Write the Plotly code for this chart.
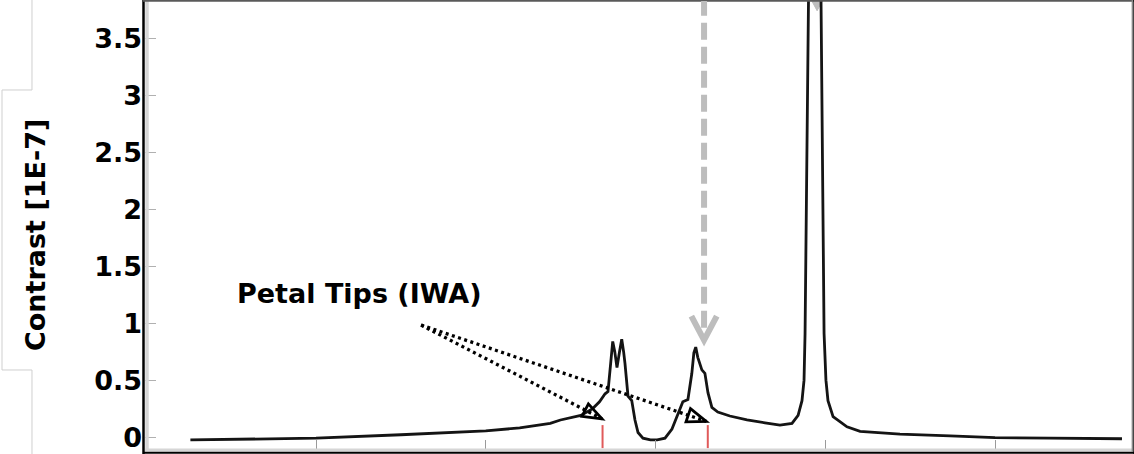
import plotly.graph_objects as go

# ---- data -------------------------------------------------------------
curve_x = [0.26, 0.61, 1.00, 1.50, 2.00, 2.20, 2.38, 2.44, 2.56, 2.63, 2.67,
           2.703, 2.72, 2.736, 2.748, 2.76, 2.773, 2.788, 2.801, 2.812, 2.82,
           2.838, 2.86, 2.879, 2.897, 2.926, 2.97, 3.01, 3.056, 3.097, 3.132,
           3.161, 3.191, 3.214, 3.226, 3.237, 3.249, 3.273, 3.291, 3.309,
           3.332, 3.367, 3.438, 3.539, 3.645, 3.733, 3.804, 3.840, 3.863,
           3.875, 3.881, 3.887, 3.898, 3.937, 3.975, 3.987, 3.993, 4.004,
           4.016, 4.046, 4.128, 4.205, 4.44, 4.735, 5.00, 5.324, 5.619, 5.748]
curve_y = [-0.025, -0.02, -0.01, 0.02, 0.055, 0.08, 0.12, 0.15, 0.19, 0.25, 0.31,
           0.38, 0.40, 0.65, 0.84, 0.75, 0.61, 0.75, 0.86, 0.75, 0.65,
           0.36, 0.32, 0.15, 0.04, -0.01, -0.025, -0.025, -0.01, 0.07, 0.21,
           0.31, 0.33, 0.56, 0.74, 0.79, 0.70, 0.59, 0.56, 0.39,
           0.26, 0.22, 0.185, 0.15, 0.125, 0.105, 0.12, 0.19, 0.32,
           0.50, 0.91, 1.79, 3.84, 9.0, 3.84, 1.79, 0.91, 0.50,
           0.32, 0.18, 0.09, 0.05, 0.025, 0.01, -0.005, -0.01, -0.015, -0.015]

y_ticks = [0, 0.5, 1, 1.5, 2, 2.5, 3, 3.5]
y_tick_text = ["0", "0.5", "1", "1.5", "2", "2.5", "3", "3.5"]
x_ticks = [1, 2, 3, 4, 5]

iwa_x = [2.688, 3.308]            # petal-tip (IWA) positions
label_text = "Petal Tips (IWA)"
label_pos = (1.259, 1.265)
label_tail = (1.619, 0.984)        # where the pointers leave the label
pointer_heads = [(2.685, 0.16), (3.299, 0.138)]
marker_arrow_x = 3.286             # grey dashed arrow over the second peak
marker_arrow_tip = 0.852
peak_arrow_x = 3.952               # grey arrow over the main peak

# ---- layout geometry --------------------------------------------------
W, H = 1134, 454
ML, MR, MT, MB = 145, 2, 1, 5
PW, PH = W - ML - MR, H - MT - MB
x_range = [-0.0074, 5.807]
y_range = [-0.105, 3.831]
px_per_x = PW / (x_range[1] - x_range[0])
px_per_y = PH / (y_range[1] - y_range[0])

FONT = "DejaVu Sans"


def paper_x(px):
    return (px - ML) / PW


def paper_y(py):
    return (H - MB - py) / PH


fig = go.Figure()
fig.add_trace(go.Scatter(x=curve_x, y=curve_y, mode="lines",
                         line=dict(color="#141414", width=2.8),
                         hoverinfo="skip", showlegend=False))

shapes = []

# plot frame
shapes += [
    dict(type="line", xref="paper", yref="paper", x0=paper_x(147), x1=paper_x(147),
         y0=paper_y(1), y1=paper_y(450), line=dict(color="#d6d6d6", width=3.5)),
    dict(type="line", xref="paper", yref="paper", x0=paper_x(145), x1=paper_x(1133),
         y0=paper_y(450), y1=paper_y(450), line=dict(color="#d6d6d6", width=3)),
    dict(type="line", xref="paper", yref="paper", x0=paper_x(143.5), x1=paper_x(143.5),
         y0=paper_y(0), y1=paper_y(454), line=dict(color="#000000", width=2.5)),
    dict(type="line", xref="paper", yref="paper", x0=paper_x(143), x1=paper_x(1134),
         y0=paper_y(452.7), y1=paper_y(452.7), line=dict(color="#000000", width=2)),
    dict(type="line", xref="paper", yref="paper", x0=paper_x(143), x1=paper_x(1134),
         y0=paper_y(0.8), y1=paper_y(0.8), line=dict(color="#5a5a5a", width=1.8)),
    dict(type="line", xref="paper", yref="paper", x0=paper_x(1132.4), x1=paper_x(1132.4),
         y0=paper_y(0), y1=paper_y(452), line=dict(color="#8a8a8a", width=1.5)),
    dict(type="line", xref="paper", yref="paper", x0=paper_x(1133.8), x1=paper_x(1133.8),
         y0=paper_y(0), y1=paper_y(454), line=dict(color="#000000", width=1)),
]

# outline of the box holding the y-axis title
box = [(32, -2), (32, 90), (2, 90), (2, 370), (32, 370), (32, 456)]
path = "M " + " L ".join(f"{paper_x(a):.5f},{paper_y(b):.5f}" for a, b in box)
shapes.append(dict(type="path", xref="paper", yref="paper", path=path,
                   line=dict(color="#cfcfcf", width=1)))

# IWA markers on the baseline
for xv in iwa_x:
    shapes.append(dict(type="line", x0=xv, x1=xv, y0=0.105, y1=-0.097,
                       line=dict(color="#e05a5a", width=2)))

# grey dashed arrow pointing at the second peak
head_len = 24 / px_per_y
head_half = 12.7 / px_per_x
shapes.append(dict(type="line", x0=marker_arrow_x, x1=marker_arrow_x,
                   y0=y_range[1] + 0.02, y1=marker_arrow_tip + 8 / px_per_y,
                   line=dict(color="#bdbdbd", width=6, dash="17px,7px")))
shapes.append(dict(type="path",
                   path=(f"M {marker_arrow_x - head_half},{marker_arrow_tip + head_len} "
                         f"L {marker_arrow_x},{marker_arrow_tip} "
                         f"L {marker_arrow_x + head_half},{marker_arrow_tip + head_len}"),
                   line=dict(color="#bdbdbd", width=6)))

# grey arrow tip over the main peak (its shaft lies above the frame)
tri_half = 6.5 / px_per_x
tri_top = y_range[1] + 0.02
tri_tip = tri_top - 12 / px_per_y
shapes.append(dict(type="path", layer="below",
                   path=(f"M {peak_arrow_x - tri_half},{tri_top} "
                         f"L {peak_arrow_x + tri_half},{tri_top} "
                         f"L {peak_arrow_x},{tri_tip} Z"),
                   fillcolor="#bdbdbd", line=dict(color="#bdbdbd", width=1)))

# dotted pointers from the label with open arrow heads
for hx, hy in pointer_heads:
    tx, ty = label_tail
    shapes.append(dict(type="line", x0=tx, y0=ty, x1=hx, y1=hy,
                       line=dict(color="#000000", width=3.3, dash="3px,3.5px")))
    # direction in pixel space
    dxp = (hx - tx) * px_per_x
    dyp = (hy - ty) * px_per_y
    norm = (dxp ** 2 + dyp ** 2) ** 0.5
    ux, uy = dxp / norm, dyp / norm
    nx, ny = -uy, ux
    L, Wd = 19, 7
    b1 = (hx + (-L * ux + Wd * nx) / px_per_x, hy + (-L * uy + Wd * ny) / px_per_y)
    b2 = (hx + (-L * ux - Wd * nx) / px_per_x, hy + (-L * uy - Wd * ny) / px_per_y)
    shapes.append(dict(type="path",
                       path=f"M {b1[0]},{b1[1]} L {hx},{hy} L {b2[0]},{b2[1]} Z",
                       line=dict(color="#000000", width=2.8)))

annotations = [
    dict(x=label_pos[0], y=label_pos[1], text=label_text, showarrow=False,
         xanchor="center", yanchor="middle",
         font=dict(family=FONT, size=27, color="#000000", weight="bold")),
    dict(xref="paper", yref="paper", x=paper_x(35), y=paper_y(235),
         text="Contrast [1E-7]", textangle=-90, showarrow=False,
         xanchor="center", yanchor="middle",
         font=dict(family=FONT, size=27, color="#000000", weight="bold")),
]

fig.update_layout(
    width=W, height=H,
    margin=dict(l=ML, r=MR, t=MT, b=MB, pad=0),
    paper_bgcolor="white", plot_bgcolor="white",
    shapes=shapes, annotations=annotations,
    xaxis=dict(range=x_range, showgrid=False, zeroline=False, showline=False,
               tickmode="array", tickvals=x_ticks, showticklabels=False,
               ticks="inside", ticklen=9, tickwidth=1, tickcolor="#9a9a9a"),
    yaxis=dict(range=y_range, showgrid=False, zeroline=False, showline=False,
               tickmode="array", tickvals=y_ticks, ticktext=y_tick_text,
               ticks="inside", ticklen=11, tickwidth=1, tickcolor="#b0b0b0",
               ticklabelstandoff=2,
               tickfont=dict(family=FONT, size=27, color="#000000", weight="bold")),
)

fig.write_html("out.html", config={"displayModeBar": False})
